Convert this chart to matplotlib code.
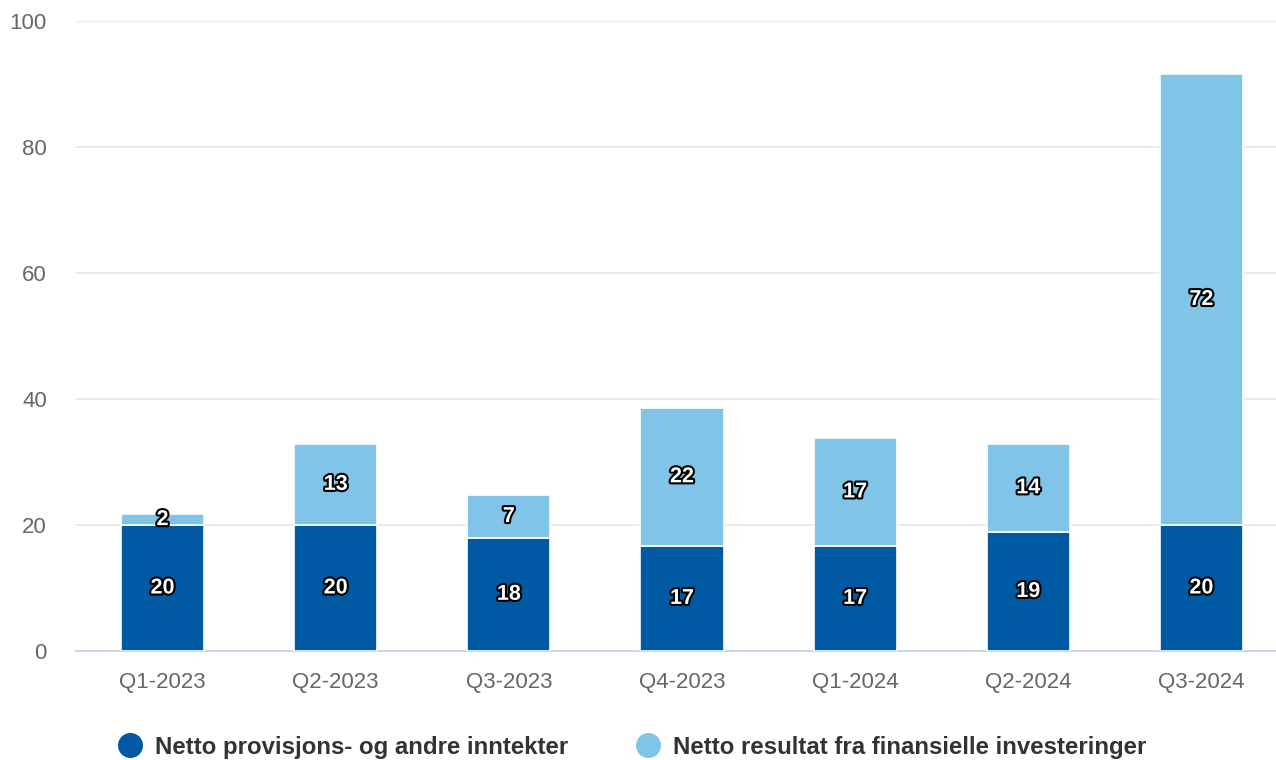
import matplotlib.pyplot as plt
import matplotlib.patheffects as pe
from matplotlib.lines import Line2D
import numpy as np

plt.rcParams['font.family'] = ['Liberation Sans', 'DejaVu Sans']

categories = ["Q1-2023", "Q2-2023", "Q3-2023", "Q4-2023", "Q1-2024", "Q2-2024", "Q3-2024"]
provisjon = [20.0, 20.0, 18.0, 16.7, 16.7, 18.9, 20.0]
finansielle = [1.7, 12.9, 6.7, 21.9, 17.1, 14.0, 71.6]
series_names = ["Netto provisjons- og andre inntekter", "Netto resultat fra finansielle investeringer"]

dark = "#005aa3"
light = "#80c5e8"

fig = plt.figure(figsize=(12.76, 7.6), dpi=100)
# plot area runs a little past the right edge of the picture, as in the original
ax = fig.add_axes([76 / 1276, 1 - 651 / 760, 1212 / 1276, 630 / 760])

x = np.arange(len(categories))
w = 0.48
ax.bar(x, provisjon, w, color=dark, edgecolor="white", linewidth=1.2, zorder=3)
ax.bar(x, finansielle, w, bottom=provisjon, color=light, edgecolor="white", linewidth=1.2, zorder=3)

outline = [pe.withStroke(linewidth=3, foreground="black")]
for i in range(len(categories)):
    ax.text(x[i], provisjon[i] / 2, f"{round(provisjon[i])}", ha="center", va="center",
            color="white", fontsize=15.5, fontweight="bold", path_effects=outline, zorder=5)
    ax.text(x[i], provisjon[i] + finansielle[i] / 2, f"{round(finansielle[i])}", ha="center",
            va="center", color="white", fontsize=15.5, fontweight="bold", path_effects=outline, zorder=5)

ax.set_xlim(-0.5, len(categories) - 0.5)
ax.set_ylim(0, 100)
ax.set_yticks([0, 20, 40, 60, 80, 100])
ax.set_xticks(x)
ax.set_xticklabels(categories)
ax.grid(axis="y", color="#e6e6e6", linewidth=1.2, zorder=0)
for s in ["top", "right", "left"]:
    ax.spines[s].set_visible(False)
ax.spines["bottom"].set_color("#ccd6eb")
ax.spines["bottom"].set_linewidth(1.5)
ax.tick_params(axis="y", length=0, pad=21, labelsize=16, labelcolor="#666666")
ax.tick_params(axis="x", length=0, pad=15, labelsize=16, labelcolor="#666666")

handles = [Line2D([], [], marker="o", linestyle="", markersize=17, color=dark),
           Line2D([], [], marker="o", linestyle="", markersize=17, color=light)]
leg = fig.legend(handles, series_names, loc="center", bbox_to_anchor=(0.4907, 0.017), ncol=2,
                 frameon=False, columnspacing=2.3, handletextpad=0.05,
                 prop={"size": 17.3, "weight": "bold"})
for t in leg.get_texts():
    t.set_color("#333333")

fig.savefig("out.png", dpi=100)
